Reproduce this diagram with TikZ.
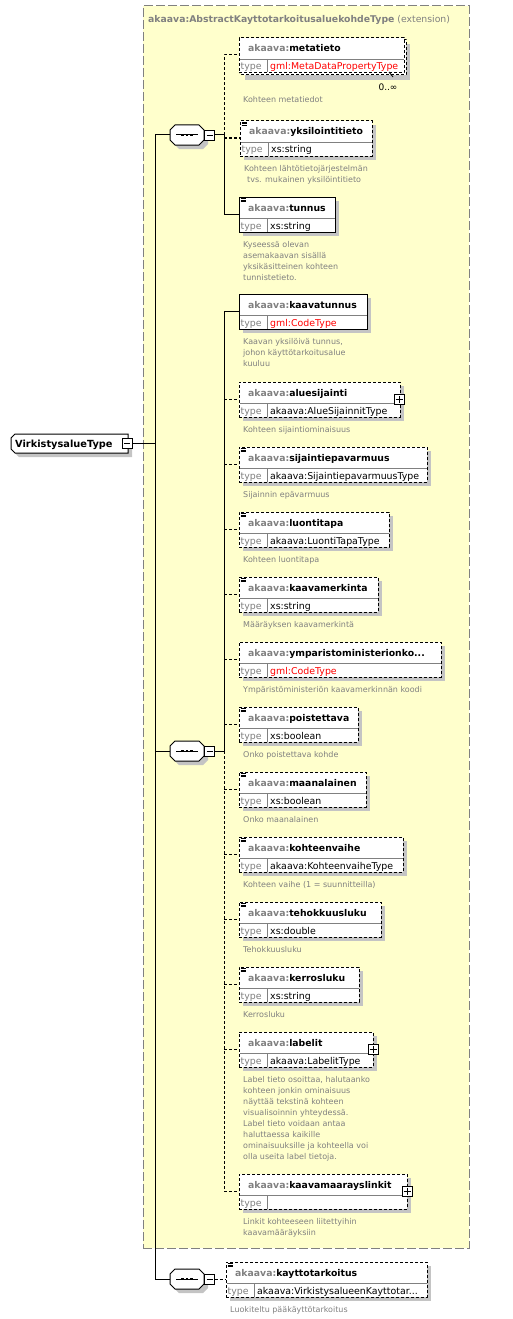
\documentclass[tikz,border=0pt]{standalone}
\usepackage{fontspec}
\setmainfont{DejaVu Sans}
\usetikzlibrary{calc}
\definecolor{gtxt}{HTML}{808080}
\definecolor{ylw}{HTML}{FFFFCC}
\definecolor{shd}{HTML}{C4C4C4}
\definecolor{redt}{HTML}{FF0000}
\definecolor{divc}{HTML}{808080}
\tikzset{
 elsolid/.style={draw=black, fill=white, line width=1pt, inner sep=0, outer sep=0},
 eldash/.style={draw=black, fill=white, line width=1pt, dash pattern=on 3pt off 2pt, inner sep=0, outer sep=0},
 hdr/.style={inner sep=0, font=\fontsize{9.3}{11}\selectfont\bfseries, anchor=base west},
 typ/.style={inner sep=0, font=\fontsize{9.4}{11}\selectfont, anchor=base west},
 dsc/.style={inner sep=0, font=\fontsize{8}{11}\selectfont, text=gtxt, align=left, anchor=north west},
 con/.style={line width=1pt, draw=black},
 dcon/.style={line width=1pt, draw=black, dash pattern=on 3pt off 2pt},
 divl/.style={draw=divc, line width=0.8pt},
 smallbox/.style={draw=black, fill=white, line width=0.8pt, minimum size=10pt, inner sep=0, outer sep=0},
}
% shadow of an element box
\newcommand{\elshd}[3]{\fill[shd] (#1+4,#2+4) rectangle (#3+4,#2+39);}
% element box: id, left, top, right, style, name, type, description
\newcommand{\elbox}[8]{%
 \pgfmathsetmacro\elw{#4-#2}%
 \node[#5, minimum width=\elw pt, minimum height=35pt, anchor=north west] (#1) at (#2,#3) {};
 \draw[divl] (#2+0.5,#3+21) -- (#4-0.5,#3+21);
 \draw[divl] (#2+28,#3+21) -- (#2+28,#3+34.5);
 \node[hdr] (#1-h) at (#2+9,#3+14) {\textcolor{gtxt}{akaava:}#6};
 \node[typ, text=gtxt] (#1-t) at (#2+1.5,#3+32) {type};
 \node[typ] (#1-v) at (#2+31,#3+32) {#7};
 \node[dsc] (#1-d) at (#2+4,#3+44) {\rule{0pt}{6.5pt}#8};
 \coordinate (#1-c) at (#2,#3+17);
}
\newcommand{\sicon}[2]{\foreach \k in {1.2,2.8,4.4}{\draw[line width=0.6pt] (#1+1.5,#2+\k) -- (#1+6.5,#2+\k);}}
\newcommand{\plusb}[3]{%
 \node[smallbox] (#1) at (#2,#3+17.5) {};
 \draw[line width=0.8pt] (#2-3.5,#3+17.5) -- (#2+3.5,#3+17.5) (#2,#3+14) -- (#2,#3+21);
}
\newcommand{\octpath}[1]{(175,#1-10) -- (199,#1-10) -- (204,#1-5) -- (204,#1+5) -- (199,#1+10) -- (175,#1+10) -- (170,#1+5) -- (170,#1-5) -- cycle}
\newcommand{\seqbox}[2]{%
 \fill[shd, shift={(4,4)}] \octpath{#2};
 \node[minimum width=34pt, minimum height=20pt, inner sep=0, outer sep=0] (#1) at (187,#2) {};
 \draw[line width=1pt, fill=white] \octpath{#2};
 \draw[line width=1pt] (176,#2) -- (198,#2);
 \foreach \q in {182.5,187,191.5}{\fill (\q-1.4,#2-1.3) rectangle (\q+1.4,#2+1.3);}
 \node[smallbox] (#1-m) at (209.5,#2) {};
 \draw[line width=0.8pt] (206.5,#2) -- (212.5,#2);
}
\begin{document}
\begin{tikzpicture}[x=1pt,y=-1pt]
\useasboundingbox (0,0) rectangle (512,1319);
% extension container
\node[draw=gtxt, fill=ylw, line width=1pt, dash pattern=on 9pt off 3pt, minimum width=326pt, minimum height=1242pt, anchor=north west, inner sep=0, outer sep=0] (ext) at (143,6) {};
\node[inner sep=0, anchor=base west, text=gtxt, font=\fontsize{9.3}{11}\selectfont] (exttitle) at (148,23) {\textbf{akaava:AbstractKayttotarkoitusaluekohdeType} (extension)};

% root
\fill[shd, shift={(4,4)}] (15,434) -- (128,434) -- (128,453) -- (15,453) -- (11,449) -- (11,438) -- cycle;
\draw[line width=1pt, fill=white] (15,434) -- (128,434) -- (128,453) -- (15,453) -- (11,449) -- (11,438) -- cycle;
\node[inner sep=0, anchor=base west, font=\fontsize{9.8}{11}\selectfont\bfseries] (root) at (15,447.5) {VirkistysalueType};
\node[smallbox] (root-m) at (127,443.5) {};
\draw[line width=0.8pt] (124,443.5) -- (130,443.5);

% main spine
\coordinate (spT) at (155,135);
\coordinate (spB) at (155,1279);
\draw[con] (root-m.east) -- (spT |- root-m.east);
\draw[con] (spT) -- (spB);

% sequences
\seqbox{seq1}{135}
\seqbox{seq2}{751}
\seqbox{seq3}{1279}
\draw[con] (spT) -- (seq1.west);
\draw[con] (spT |- seq2.west) -- (seq2.west);
\draw[con] (spB) -- (seq3.west);

% shadows
\fill[shd] (245,44) rectangle (410,80);
\draw[eldash] (241,40) rectangle (406,75);
\elshd{240}{121}{372}
\elshd{239}{197}{335}
\elshd{239}{294}{367}
\elshd{239}{382}{400}
\elshd{239}{447}{427}
\elshd{239}{512}{389}
\elshd{239}{577}{378}
\elshd{239}{642}{441}
\elshd{239}{707}{358}
\elshd{239}{772}{366}
\elshd{239}{837}{403}
\elshd{239}{902}{381}
\elshd{239}{967}{359}
\elshd{239}{1032}{373}
\elshd{239}{1174}{407}
\elshd{226}{1262}{427}

% sequence 1 children
\elbox{metatieto}{239}{38}{404}{eldash}{metatieto}{\textcolor{redt}{gml:MetaDataPropertyType}}{}
\draw[line width=0.8pt] (389,72) -- (393,77);
\node[inner sep=0, font=\fontsize{9}{11}\selectfont] (mult) at (388,87) {0..∞};
\node[dsc] (metatieto-d2) at (243,96) {\rule{0pt}{6.5pt}Kohteen metatiedot};
\elbox{yks}{240}{121}{372}{eldash}{yksilointitieto}{xs:string}{Kohteen lähtötietojärjestelmän\\\hspace*{3pt}tvs. mukainen yksilöintitieto}
\sicon{240}{121}
\elbox{tunnus}{239}{197}{335}{elsolid}{tunnus}{xs:string}{Kyseessä olevan\\asemakaavan sisällä\\yksikäsitteinen kohteen\\tunnistetieto.}
\sicon{239}{197}

\coordinate (b1) at (224,135);
\draw[con] (seq1-m.east) -- (b1);
\draw[dcon] (b1) |- (metatieto-c);
\draw[con] (b1) |- (tunnus-c);
\draw[dcon] (b1 |- yks-c) -- (yks-c);

% sequence 2 children
\elbox{kaavatunnus}{239}{294}{367}{elsolid}{kaavatunnus}{\textcolor{redt}{gml:CodeType}}{Kaavan yksilöivä tunnus,\\johon käyttötarkoitusalue\\kuuluu}
\elbox{aluesijainti}{239}{382}{400}{eldash}{aluesijainti}{akaava:AlueSijainnitType}{Kohteen sijaintiominaisuus}
\plusb{aluesijainti-p}{399}{382}
\elbox{sijaintiepavarmuus}{239}{447}{427}{eldash}{sijaintiepavarmuus}{akaava:SijaintiepavarmuusType}{Sijainnin epävarmuus}
\sicon{239}{447}
\elbox{luontitapa}{239}{512}{389}{eldash}{luontitapa}{akaava:LuontiTapaType}{Kohteen luontitapa}
\sicon{239}{512}
\elbox{kaavamerkinta}{239}{577}{378}{eldash}{kaavamerkinta}{xs:string}{Määräyksen kaavamerkintä}
\sicon{239}{577}
\elbox{ympko}{239}{642}{441}{eldash}{ymparistoministerionko...}{\textcolor{redt}{gml:CodeType}}{Ympäristöministeriön kaavamerkinnän koodi}
\elbox{poistettava}{239}{707}{358}{eldash}{poistettava}{xs:boolean}{Onko poistettava kohde}
\sicon{239}{707}
\elbox{maanalainen}{239}{772}{366}{eldash}{maanalainen}{xs:boolean}{Onko maanalainen}
\sicon{239}{772}
\elbox{kohteenvaihe}{239}{837}{403}{eldash}{kohteenvaihe}{akaava:KohteenvaiheType}{Kohteen vaihe (1 = suunnitteilla)}
\sicon{239}{837}
\elbox{tehokkuusluku}{239}{902}{381}{eldash}{tehokkuusluku}{xs:double}{Tehokkuusluku}
\sicon{239}{902}
\elbox{kerrosluku}{239}{967}{359}{eldash}{kerrosluku}{xs:string}{Kerrosluku}
\sicon{239}{967}
\elbox{labelit}{239}{1032}{373}{eldash}{labelit}{akaava:LabelitType}{Label tieto osoittaa, halutaanko\\kohteen jonkin ominaisuus\\näyttää tekstinä kohteen\\visualisoinnin yhteydessä.\\Label tieto voidaan antaa\\haluttaessa kaikille\\ominaisuuksille ja kohteella voi\\olla useita label tietoja.}
\plusb{labelit-p}{373}{1032}
\elbox{linkit}{239}{1174}{407}{eldash}{kaavamaarayslinkit}{}{Linkit kohteeseen liitettyihin\\kaavamääräyksiin}
\plusb{linkit-p}{407}{1174}

\coordinate (b2) at (224,751);
\draw[con] (seq2-m.east) -- (b2);
\draw[con] (b2) |- (kaavatunnus-c);
\draw[dcon] (b2) |- (linkit-c);
\foreach \e in {aluesijainti,sijaintiepavarmuus,luontitapa,kaavamerkinta,ympko,poistettava,maanalainen,kohteenvaihe,tehokkuusluku,kerrosluku,labelit}{
 \draw[dcon] (b2 |- \e-c) -- (\e-c);
}

% sequence 3 child
\elbox{kaytto}{226}{1262}{427}{eldash}{kayttotarkoitus}{akaava:VirkistysalueenKayttotar...}{Luokiteltu pääkäyttötarkoitus}
\sicon{226}{1262}
\draw[dcon] (seq3-m.east) -- (kaytto-c);
\end{tikzpicture}
\end{document}
